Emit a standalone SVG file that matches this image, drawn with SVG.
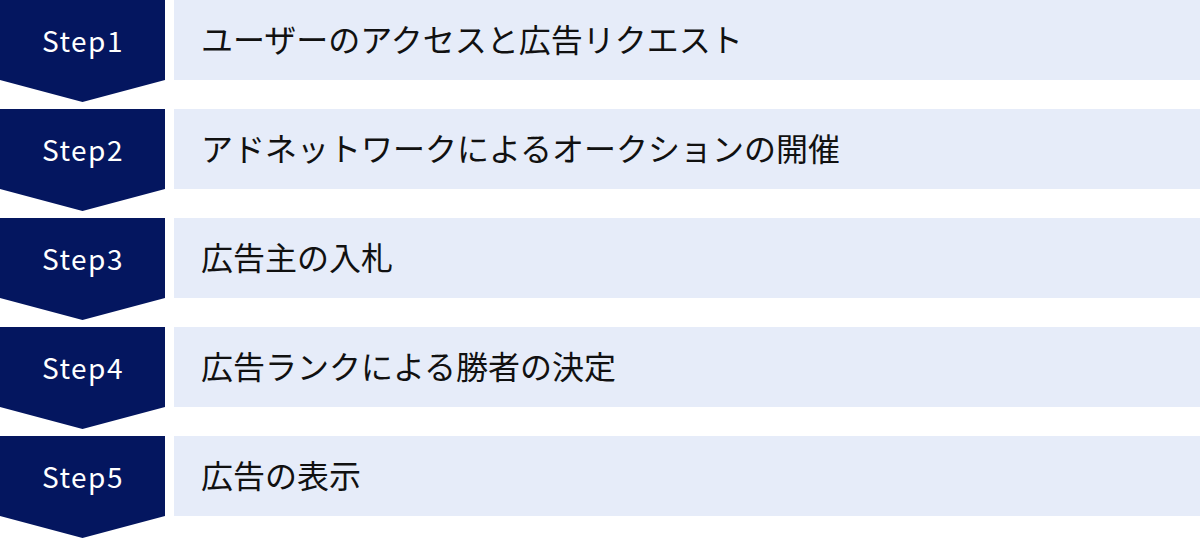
<svg xmlns="http://www.w3.org/2000/svg" width="1200" height="538" viewBox="0 0 1200 538">
<defs>
<style>
.chev{fill:#04165f}
.box{fill:#e6ecf9}
.st{font-family:"Noto Sans CJK JP","Noto Sans",sans-serif;font-size:28px;fill:#ffffff;text-anchor:middle;letter-spacing:1.5px}
.lb{font-family:"Noto Sans CJK JP","Noto Sans",sans-serif;font-size:32px;fill:#111111}
</style>
<polygon id="chevShape" points="0,0 165,0 165,80 82.5,102 0,80"/>
</defs>
<rect width="1200" height="538" fill="#ffffff"/>
<g id="step1">
<use href="#chevShape" class="chev"/>
<rect class="box" x="174" y="0" width="1026" height="80"/>
<text class="st" x="83" y="52">Step1</text>
<text class="lb" x="201" y="52">ユーザーのアクセスと広告リクエスト</text>
</g>
<g id="step2" transform="translate(0,109)">
<use href="#chevShape" class="chev"/>
<rect class="box" x="174" y="0" width="1026" height="80"/>
<text class="st" x="83" y="52">Step2</text>
<text class="lb" x="201" y="52">アドネットワークによるオークションの開催</text>
</g>
<g id="step3" transform="translate(0,218)">
<use href="#chevShape" class="chev"/>
<rect class="box" x="174" y="0" width="1026" height="80"/>
<text class="st" x="83" y="52">Step3</text>
<text class="lb" x="201" y="52">広告主の入札</text>
</g>
<g id="step4" transform="translate(0,327)">
<use href="#chevShape" class="chev"/>
<rect class="box" x="174" y="0" width="1026" height="80"/>
<text class="st" x="83" y="52">Step4</text>
<text class="lb" x="201" y="52">広告ランクによる勝者の決定</text>
</g>
<g id="step5" transform="translate(0,436)">
<use href="#chevShape" class="chev"/>
<rect class="box" x="174" y="0" width="1026" height="80"/>
<text class="st" x="83" y="52">Step5</text>
<text class="lb" x="201" y="52">広告の表示</text>
</g>
<g id="connectors"></g>
</svg>
